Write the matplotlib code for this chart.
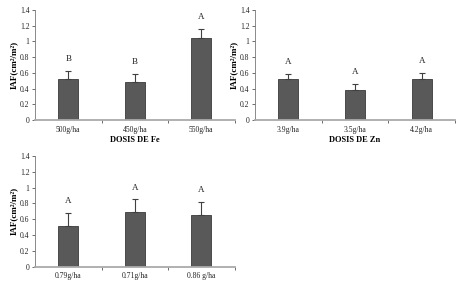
import matplotlib
matplotlib.use("Agg")
import matplotlib.pyplot as plt
import numpy as np

plt.rcParams['font.family'] = ['Liberation Serif', 'DejaVu Serif']

fe_labels = ["500g/ha", "450g/ha", "550g/ha"]
fe_values = [0.52, 0.48, 1.05]
fe_err = [0.11, 0.11, 0.11]
fe_letters = ["B", "B", "A"]

zn_labels = ["3.9g/ha", "3.5g/ha", "4.2g/ha"]
zn_values = [0.52, 0.38, 0.52]
zn_err = [0.07, 0.08, 0.08]
zn_letters = ["A", "A", "A"]

c_labels = ["0.79g/ha", "0.71g/ha", "0.86 g/ha"]
c_values = [0.52, 0.69, 0.66]
c_err = [0.16, 0.16, 0.16]
c_letters = ["A", "A", "A"]

W, H = 462, 286
fig = plt.figure(figsize=(W / 100, H / 100), dpi=100)

def panel(rect, labels, values, err, letters, xlabel):
    ax = fig.add_axes(rect)
    x = np.arange(len(labels))
    ax.bar(x, values, width=0.3, color="#595959", edgecolor="#3a3a3a", linewidth=0.6, zorder=2)
    ax.errorbar(x, values, yerr=[np.zeros(len(err)), err], fmt="none",
                ecolor="#404040", elinewidth=0.8, capsize=2, capthick=0.8, zorder=3)
    for xi, v, e, l in zip(x, values, err, letters):
        ax.text(xi, v + e + 0.15, l, ha="center", va="center", fontsize=6.5, color="#222222")
    ax.set_xlim(-0.5, len(labels) - 0.5)
    ax.set_ylim(0, 1.4)
    ax.set_yticks(np.arange(0, 1.41, 0.2))
    ax.set_yticklabels(["0", "0.2", "0.4", "0.6", "0.8", "1", "1.2", "1.4"])
    ax.set_xticks(x)
    ax.set_xticklabels(labels)
    ax.set_xticks(np.arange(0.5, len(labels), 1.0), minor=True)
    ax.tick_params(axis="x", which="major", length=0, labelsize=5.5, pad=4, colors="#222222")
    ax.tick_params(axis="x", which="minor", length=2, width=0.6, color="#555555", direction="out")
    ax.tick_params(axis="y", length=2, width=0.6, labelsize=5.5, pad=2, color="#555555", labelcolor="#222222")
    for s in ("top", "right"):
        ax.spines[s].set_visible(False)
    ax.spines["left"].set_color("#777777")
    ax.spines["left"].set_linewidth(0.6)
    ax.spines["bottom"].set_color("#aaaaaa")
    ax.spines["bottom"].set_linewidth(1.3)
    ax.set_ylabel("IAF(cm²/m²)", fontsize=6.5, fontweight="bold", labelpad=1.5)
    if xlabel:
        ax.set_xlabel(xlabel, fontsize=6, fontweight="bold", labelpad=2)
    return ax

panel([35 / W, 1 - 120 / H, 199.5 / W, 110 / H], fe_labels, fe_values, fe_err, fe_letters, "DOSIS DE Fe")
panel([255 / W, 1 - 120 / H, 200 / W, 110 / H], zn_labels, zn_values, zn_err, zn_letters, "DOSIS DE Zn")
panel([35 / W, 1 - 266.7 / H, 199.5 / W, 110.7 / H], c_labels, c_values, c_err, c_letters, None)

fig.savefig("out.png", dpi=100)
